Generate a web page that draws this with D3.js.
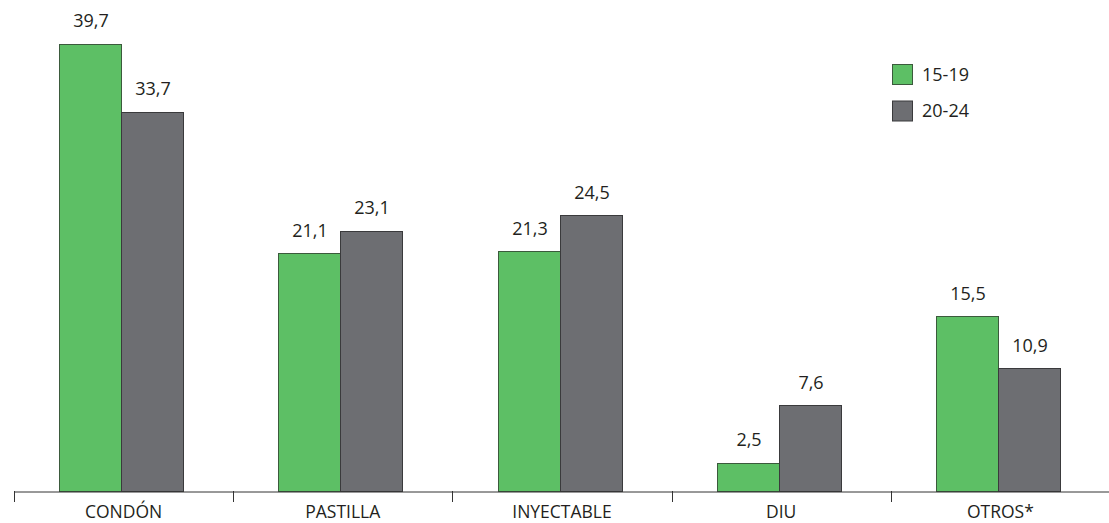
<!DOCTYPE html>
<html><head><meta charset="utf-8">
<script src="https://cdn.jsdelivr.net/npm/d3@7"></script>
<style>body{margin:0;background:#fff}svg{display:block}text{font-family:"Open Sans",sans-serif;fill:#231f20}</style>
</head><body><svg id="c" width="1109" height="523"></svg>
<script>
const categories = ["CONDÓN","PASTILLA","INYECTABLE","DIU","OTROS*"];
const seriesNames = ["15-19","20-24"];
const values1519 = [39.7,21.1,21.3,2.5,15.5];
const values2024 = [33.7,23.1,24.5,7.6,10.9];
const colors = ["#5dbf65","#6d6e72"];
const strokes = ["#3b5a3c","#3a3a3c"];

const svg = d3.select("#c");
const baseY = 491;
const x0 = d3.scaleBand().domain(categories).range([14, 1110]).padding(0);
const x1 = d3.scaleBand().domain(seriesNames).range([0,124]).padding(0);
const y = d3.scaleLinear().domain([0,40]).range([baseY, baseY-450.4]);
const fmt = v => d3.format(".1f")(v).replace(".",",");

const data = categories.map((c,i)=>({cat:c, vals:[values1519[i], values2024[i]]}));
const g = svg.append("g");
const groups = g.selectAll("g.grp").data(data).join("g")
  .attr("transform", d=>`translate(${Math.floor(x0(d.cat)+(x0.bandwidth()-124)/2)-2},0)`);
groups.selectAll("rect").data(d=>d.vals.map((v,j)=>({v,j}))).join("rect")
  .attr("x", d=>x1(seriesNames[d.j])+0.5)
  .attr("y", d=>Math.round(y(d.v))+0.5)
  .attr("width", x1.bandwidth())
  .attr("height", d=>baseY-Math.round(y(d.v)))
  .attr("fill", d=>colors[d.j]).attr("stroke", d=>strokes[d.j]).attr("stroke-width",1);
groups.selectAll("text").data(d=>d.vals.map((v,j)=>({v,j}))).join("text")
  .attr("x", d=>x1(seriesNames[d.j])+x1.bandwidth()/2+1)
  .attr("y", d=>y(d.v)-16.5)
  .attr("text-anchor","middle").attr("font-size",18)
  .text(d=>fmt(d.v));

// axis
const ax = svg.append("g").attr("transform",`translate(0,${baseY+0.5})`)
  .call(d3.axisBottom(x0).tickSize(0).tickPadding(0));
ax.select(".domain").attr("stroke","#333");
ax.selectAll("text").attr("font-size",17.5).attr("font-family","Open Sans, sans-serif")
  .attr("fill","#231f20").attr("dy",null).attr("y",26.5);
const tickPos = categories.map(c=>x0(c));
svg.selectAll("line.tk").data(tickPos).join("line")
  .attr("x1",d=>Math.round(d)+0.5).attr("x2",d=>Math.round(d)+0.5)
  .attr("y1",baseY).attr("y2",baseY+11).attr("stroke","#333");

// legend
const leg = svg.append("g").attr("transform","translate(892,64)");
seriesNames.forEach((s,i)=>{
  leg.append("rect").attr("x",0.5).attr("y",i*36.5+0.5).attr("width",20).attr("height",20)
    .attr("fill",colors[i]).attr("stroke",strokes[i]);
  leg.append("text").attr("x",30).attr("y",i*36.5+16.5).attr("font-size",18).text(s);
});
</script></body></html>
